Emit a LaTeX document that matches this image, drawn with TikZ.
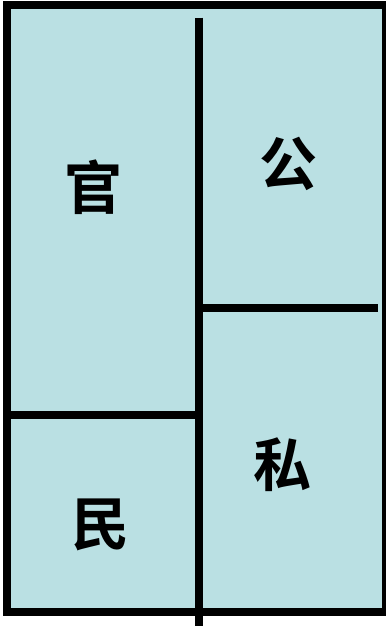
\documentclass[tikz,border=0pt]{standalone}
\usepackage{fontspec}
\newfontfamily\cjk[BoldFont={Noto Sans CJK SC Bold}]{Noto Sans CJK SC}
\definecolor{boxfill}{RGB}{186,224,227}
\tikzset{
  divider/.style={line width=8pt, line cap=butt},
  outerbox/.style={draw=black, fill=boxfill, line width=8pt},
  lbl/.style={font=\cjk\bfseries\fontsize{58}{62}\selectfont, inner sep=0pt}
}
\begin{document}
\begin{tikzpicture}[x=1pt,y=-1pt]
\useasboundingbox (0,0) rectangle (386,630);
\draw[outerbox] (7.3,4.5) rectangle (385.5,612);
\coordinate (vtop) at (199,17.7);
\coordinate (vbot) at (199,625.7);
\coordinate (lh1) at (3.3,414.5);
\coordinate (lh2) at (199,414.5);
\coordinate (rh1) at (199,308);
\coordinate (rh2) at (377.7,308);
\draw[divider] (vtop) -- (vbot);
\draw[divider] (lh1) -- (lh2);
\draw[divider] (rh1) -- (rh2);
\node[lbl] (guan) at (93,187) {官};
\node[lbl] (gong) at (288,164) {公};
\node[lbl] (min) at (100,525) {民};
\node[lbl] (si) at (282,465) {私};
\end{tikzpicture}
\end{document}
